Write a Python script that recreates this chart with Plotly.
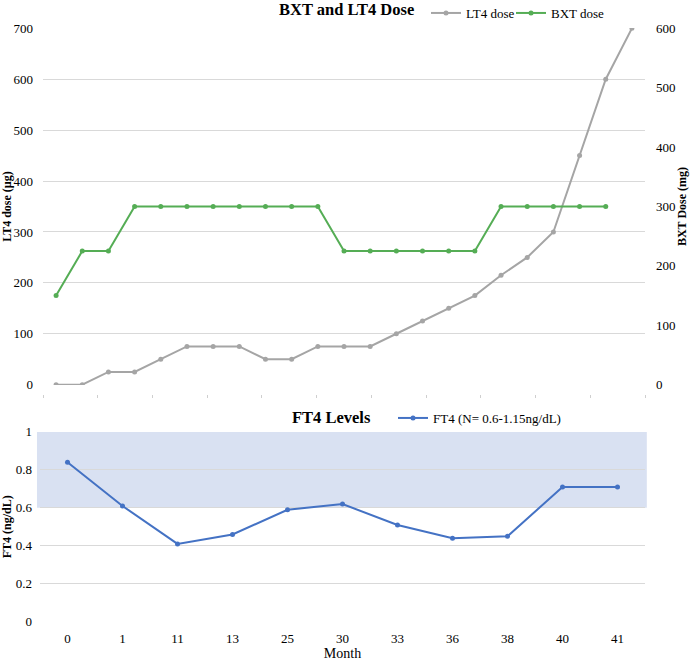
import plotly.graph_objects as go

# ---- data ----
lt4_dose = [0, 0, 25, 25, 50, 75, 75, 75, 50, 50, 75, 75, 75, 100, 125, 150, 175, 215, 250, 300, 450, 600, 700]
bxt_dose = [150, 225, 225, 300, 300, 300, 300, 300, 300, 300, 300, 225, 225, 225, 225, 225, 225, 300, 300, 300, 300, 300, None]
visit_index = list(range(len(lt4_dose)))

months = ["0", "1", "11", "13", "25", "30", "33", "36", "38", "40", "41"]
ft4 = [0.84, 0.61, 0.41, 0.46, 0.59, 0.62, 0.51, 0.44, 0.45, 0.71, 0.71]
ft4_band = (0.6, 1.0)

W, H = 695, 663
FONT = "Liberation Serif"
GRID = "#D9D9D9"
GRAY = "#A5A5A5"
GREEN = "#55AD55"
BLUE = "#4472C4"
BAND = "rgb(217,225,242)"
EPS = 1e-3

def px_x(p):
    return p / W

def px_y(p):
    return 1 - p / H

fig = go.Figure()

fig.add_trace(go.Scatter(x=visit_index, y=lt4_dose, name="LT4 dose", mode="lines+markers",
                         line=dict(color=GRAY, width=2), marker=dict(size=5, color=GRAY),
                         xaxis="x", yaxis="y", legend="legend"))
fig.add_trace(go.Scatter(x=visit_index, y=bxt_dose, name="BXT dose", mode="lines+markers",
                         line=dict(color=GREEN, width=2), marker=dict(size=5, color=GREEN),
                         xaxis="x", yaxis="y2", legend="legend3"))
fig.add_trace(go.Scatter(x=months, y=ft4, name="FT4 (N= 0.6-1.15ng/dL)", mode="lines+markers",
                         line=dict(color=BLUE, width=2), marker=dict(size=5, color=BLUE),
                         xaxis="x2", yaxis="y3", legend="legend2"))
# invisible helper trace so the faint tick axis of the top panel is rendered
fig.add_trace(go.Scatter(x=[0, 11], y=[0, 0], mode="markers", marker=dict(opacity=0),
                         xaxis="x3", yaxis="y", showlegend=False, hoverinfo="skip"))

top_dom_x = [px_x(43), px_x(645)]
top_dom_y = [px_y(385), px_y(28)]
bot_dom_x = [px_x(40), px_x(645)]
bot_dom_y = [px_y(622), px_y(431.7)]

leg_common = dict(orientation="h", xanchor="left", yanchor="middle", font=dict(size=13),
                  bgcolor="rgba(0,0,0,0)", itemwidth=30)

fig.update_layout(
    width=W, height=H,
    margin=dict(l=0, r=0, t=0, b=0, autoexpand=False),
    paper_bgcolor="white", plot_bgcolor="white",
    font=dict(family=FONT, size=13, color="#000000"),
    xaxis=dict(domain=top_dom_x, range=[-0.5, len(lt4_dose) - 0.5], showticklabels=False,
               showgrid=False, zeroline=False, showline=False, ticks="", automargin=False),
    xaxis3=dict(domain=[px_x(49), px_x(639)], range=[0, 11], anchor="free", position=px_y(394),
                overlaying="x", tickmode="linear", tick0=0, dtick=1, ticks="outside", ticklen=3,
                tickcolor="#CFCFCF", showticklabels=False, showgrid=False, zeroline=False, showline=False,
                automargin=False),
    yaxis=dict(domain=top_dom_y, range=[-700 * EPS, 700 * (1 + EPS)], dtick=100, anchor="x",
               showgrid=True, gridcolor=GRID, gridwidth=1, zeroline=False, showline=False,
               tickfont=dict(size=13, color="#000"), ticklabelstandoff=9, automargin=False,
               title=dict(text="<b>LT4 dose (µg)</b>", font=dict(size=12), standoff=5)),
    yaxis2=dict(domain=top_dom_y, range=[-600 * EPS, 600 * (1 + EPS)], dtick=100, overlaying="y",
                side="right", anchor="x", automargin=False,
                showgrid=False, zeroline=False, showline=False, tickfont=dict(size=13, color="#000"),
                ticklabelstandoff=10,
                title=dict(text="<b>BXT Dose (mg)</b>", font=dict(size=12), standoff=3)),
    xaxis2=dict(domain=bot_dom_x, anchor="y3", type="category", range=[-0.5, len(months) - 0.5],
                showgrid=False, zeroline=False, showline=False, tickfont=dict(size=13, color="#000"),
                ticklabelstandoff=7, automargin=False,
                title=dict(text="Month", font=dict(size=14), standoff=3)),
    yaxis3=dict(domain=bot_dom_y, range=[-EPS, 1 + EPS], dtick=0.2, anchor="x2",
                showgrid=True, gridcolor=GRID, gridwidth=1, zeroline=False, showline=False,
                tickfont=dict(size=13, color="#000"), tickformat="~g", ticklabelstandoff=7,
                automargin=False,
                title=dict(text="<b>FT4 (ng/dL)</b>", font=dict(size=12), standoff=5)),
    legend=dict(x=px_x(426), y=px_y(13), **leg_common),
    legend3=dict(x=px_x(511), y=px_y(13), **leg_common),
    legend2=dict(x=px_x(393), y=px_y(418), **leg_common),
    annotations=[
        dict(text="<b>BXT and LT4 Dose</b>", x=px_x(346), y=px_y(10), xref="paper", yref="paper",
             showarrow=False, font=dict(size=16.5), xanchor="center", yanchor="middle"),
        dict(text="<b>FT4 Levels</b>", x=px_x(331), y=px_y(417), xref="paper", yref="paper",
             showarrow=False, font=dict(size=16.5), xanchor="center", yanchor="middle"),
    ],
    shapes=[
        dict(type="rect", xref="x2 domain", yref="y3", x0=-0.005, x1=1.003, y0=ft4_band[0], y1=ft4_band[1],
             fillcolor=BAND, line=dict(width=0), layer="below"),
    ],
    showlegend=True,
)

fig.write_html("out.html")
